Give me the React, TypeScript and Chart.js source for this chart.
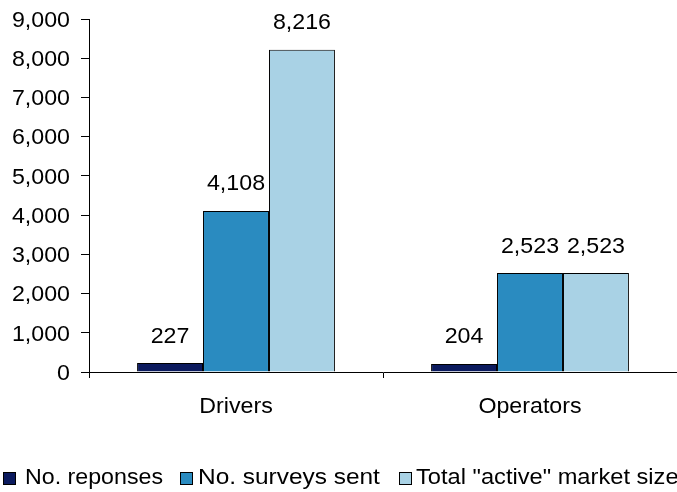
import React, { useEffect, useRef } from "react";
import { Chart, registerables } from "chart.js";

Chart.register(...registerables);

const categories = ["Drivers", "Operators"];
const seriesNames = ["No. reponses", "No. surveys sent", 'Total "active" market size'];
const responses = [227, 204];
const surveysSent = [4108, 2523];
const marketSize = [8216, 2523];
const seriesColors = ["#0b1a5e", "#2a8bc0", "#a9d2e5"];
const yTicks = [0, 1000, 2000, 3000, 4000, 5000, 6000, 7000, 8000, 9000];

const FONT = "Liberation Sans, Arial, sans-serif";
const FONT_SIZE = 22;
// slightly widened glyphs, as in the chart's original rendering
const TEXT_SX = 1.055;
// legend entry placement: swatch left edge, label start and label widening
const legendSwatchX = [3, 180, 399];
const legendTextX = [25, 198, 416];
const legendSx = [1.055, 1.11, 1.075];

const fmt = (v: number) => v.toLocaleString("en-US");

function drawText(ctx: CanvasRenderingContext2D, text: string, x: number, y: number, align: CanvasTextAlign, sx: number) {
  ctx.save();
  ctx.translate(x, y);
  ctx.scale(sx, 1);
  ctx.textAlign = align;
  ctx.fillText(text, 0, 0);
  ctx.restore();
}

// Axis tick labels, drawn from the chart's own scales
const axisLabels = {
  id: "axisLabels",
  afterDraw(chart: any) {
    const ctx = chart.ctx as CanvasRenderingContext2D;
    const { x: xs, y: ys } = chart.scales;
    ctx.save();
    ctx.font = `${FONT_SIZE}px ${FONT}`;
    ctx.fillStyle = "#000";
    ctx.textBaseline = "alphabetic";
    yTicks.forEach((v) => {
      const py = ys.getPixelForValue(v);
      drawText(ctx, fmt(v), xs.left - 19, py + 7.8, "right", TEXT_SX);
    });
    categories.forEach((c, i) => {
      const px = xs.getPixelForValue(i);
      drawText(ctx, c, px, ys.bottom + 41, "center", TEXT_SX);
    });
    ctx.restore();
  },
};

// Value labels above each bar
const valueLabels = {
  id: "valueLabels",
  afterDatasetsDraw(chart: any) {
    const ctx = chart.ctx as CanvasRenderingContext2D;
    ctx.save();
    ctx.font = `${FONT_SIZE}px ${FONT}`;
    ctx.fillStyle = "#000";
    ctx.textBaseline = "alphabetic";
    chart.data.datasets.forEach((ds: any, i: number) => {
      const meta = chart.getDatasetMeta(i);
      meta.data.forEach((bar: any, j: number) => {
        drawText(ctx, fmt(ds.data[j]), bar.x, bar.y - 20.5, "center", TEXT_SX);
      });
    });
    ctx.restore();
  },
};

// Single-row legend along the bottom edge
const bottomLegend = {
  id: "bottomLegend",
  afterDraw(chart: any) {
    const ctx = chart.ctx as CanvasRenderingContext2D;
    ctx.save();
    ctx.font = `${FONT_SIZE}px ${FONT}`;
    ctx.textBaseline = "alphabetic";
    const baseline = 484;
    const box = 13;
    const boxTop = 472;
    chart.data.datasets.forEach((ds: any, i: number) => {
      const bx = legendSwatchX[i];
      ctx.fillStyle = ds.backgroundColor;
      ctx.fillRect(bx, boxTop, box, box);
      ctx.strokeStyle = "#000";
      ctx.lineWidth = 1;
      ctx.strokeRect(bx + 0.5, boxTop + 0.5, box - 1, box - 1);
      ctx.fillStyle = "#000";
      drawText(ctx, ds.label, legendTextX[i], baseline, "left", legendSx[i]);
    });
    ctx.restore();
  },
};

export default function App() {
  const ref = useRef<HTMLCanvasElement>(null);

  useEffect(() => {
    if (!ref.current) return;
    const values = [responses, surveysSent, marketSize];
    const chart = new Chart(ref.current, {
      type: "bar",
      data: {
        labels: categories,
        datasets: seriesNames.map((name, i) => ({
          label: name,
          data: values[i],
          backgroundColor: seriesColors[i],
          borderColor: "#000",
          borderWidth: 1,
          barPercentage: 1,
          categoryPercentage: 0.673,
        })),
      },
      options: {
        responsive: false,
        animation: false,
        devicePixelRatio: 1,
        layout: { padding: { top: 19, left: 0, right: 0, bottom: 0 } },
        plugins: {
          legend: { display: false },
          tooltip: { enabled: false },
        },
        scales: {
          x: {
            afterFit: (s: any) => {
              s.height = 120;
            },
            grid: {
              drawOnChartArea: false,
              drawTicks: true,
              tickLength: 6,
              tickColor: "#000",
              offset: true,
            },
            border: { color: "#000", width: 1 },
            ticks: { display: false },
          },
          y: {
            min: 0,
            max: 9000,
            afterFit: (s: any) => {
              s.width = 89;
            },
            afterBuildTicks: (s: any) => {
              s.ticks = yTicks.map((v) => ({ value: v }));
            },
            grid: {
              drawOnChartArea: false,
              drawTicks: true,
              tickLength: 8,
              tickColor: "#000",
            },
            border: { color: "#000", width: 1 },
            ticks: { display: false },
          },
        },
      },
      plugins: [valueLabels, axisLabels, bottomLegend],
    });
    return () => chart.destroy();
  }, []);

  return (
    <div
      style={{
        position: "absolute",
        left: 0,
        top: 0,
        width: 677,
        height: 492,
        overflow: "hidden",
        background: "#fff",
      }}
    >
      <canvas ref={ref} width={677} height={492} style={{ width: 677, height: 492 }} />
    </div>
  );
}
